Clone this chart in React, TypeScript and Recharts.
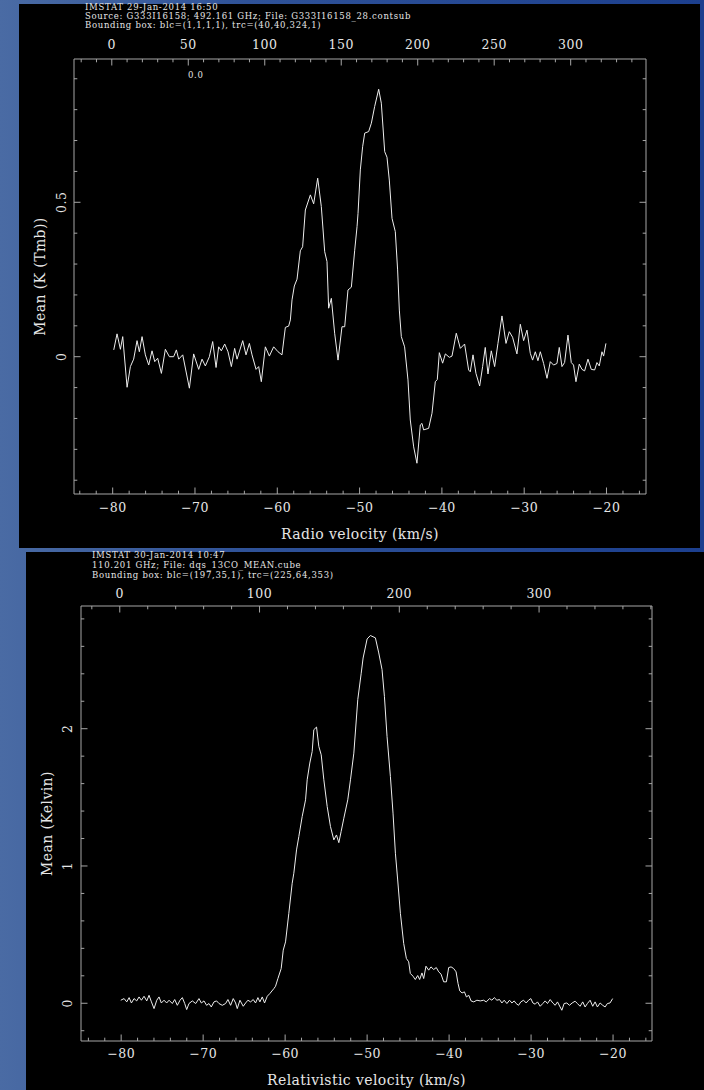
import React from 'react';
import { LineChart, Line, XAxis, YAxis } from 'recharts';

// IMSTAT spectrum 1: G333I16158, 492.161 GHz (mean, K (Tmb))
const ciVelocity = [
  -79.87, -79.47, -79.06, -78.78, -78.25, -77.85, -77.45, -77.04, -76.76, -76.43,
  -76.03, -75.62, -75.22, -74.89, -74.53, -74.08, -73.6, -73.11, -72.59, -72.26,
  -71.98, -71.49, -70.68, -70.16, -69.55, -69.14, -68.74, -68.25, -67.85, -67.44,
  -67.12, -66.8, -66.39, -65.99, -65.58, -65.18, -64.89, -64.2, -63.8, -63.39,
  -63.07, -62.58, -62.26, -61.94, -61.45, -60.96, -60.44, -59.91, -59.43, -59.02,
  -58.62, -58.41, -58.21, -57.93, -57.6, -57.2, -56.92, -56.59, -55.98, -55.58,
  -55.09, -54.65, -54.24, -53.96, -53.76, -53.43, -53.03, -52.62, -52.14, -51.81,
  -51.41, -51.0, -50.6, -50.31, -50.19, -49.91, -49.63, -49.38, -48.9, -48.57,
  -48.17, -47.68, -47.36, -46.95, -46.67, -46.39, -46.06, -45.66, -45.38, -45.17,
  -44.93, -44.53, -44.12, -43.84, -43.43, -43.03, -42.62, -42.42, -42.22, -41.61,
  -41.2, -40.8, -40.56, -40.31, -39.91, -39.58, -39.1, -38.77, -38.25, -37.76,
  -37.24, -36.75, -36.55, -36.22, -35.86, -35.41, -35.05, -34.73, -34.4, -34.0,
  -33.59, -33.19, -32.7, -32.21, -31.81, -31.41, -30.88, -30.47, -30.07, -29.66,
  -29.26, -28.98, -28.65, -28.33, -28.04, -27.64, -27.23, -26.83, -26.43, -26.02,
  -25.74, -25.41, -25.09, -24.68, -24.28, -24.0, -23.71, -23.31, -22.98, -22.66,
  -22.25, -21.85, -21.44, -21.16, -20.88, -20.55, -20.35, -20.07,
];
const ciMean = [
  0.022, 0.074, 0.024, 0.065, -0.099, -0.032, -0.008, 0.052, 0.016, 0.065,
  0.006, -0.027, 0.019, -0.016, -0.005, -0.054, 0.024, 0.0, 0.0, 0.022,
  -0.008, 0.006, -0.102, 0.009, -0.041, -0.008, -0.03, 0.0, 0.049, -0.035,
  0.032, 0.019, 0.041, 0.016, -0.032, 0.027, -0.008, 0.052, 0.006, 0.043,
  0.006, -0.041, -0.032, -0.081, 0.032, 0.002, 0.032, 0.016, 0.006, 0.095,
  0.099, 0.119, 0.184, 0.229, 0.251, 0.343, 0.356, 0.475, 0.524, 0.495,
  0.578, 0.486, 0.34, 0.308, 0.157, 0.189, 0.076, -0.011, 0.097, 0.097,
  0.216, 0.225, 0.343, 0.421, 0.464, 0.605, 0.68, 0.724, 0.729, 0.756,
  0.81, 0.866, 0.821, 0.664, 0.646, 0.572, 0.448, 0.405, 0.281, 0.151,
  0.065, 0.032, -0.075, -0.205, -0.292, -0.345, -0.221, -0.216, -0.237, -0.232,
  -0.183, -0.081, -0.074, 0.013, -0.021, 0.009, -0.002, 0.002, 0.076, 0.027,
  0.041, -0.043, -0.049, 0.006, -0.054, -0.095, -0.032, 0.03, -0.056, 0.019,
  -0.032, 0.043, 0.132, 0.043, 0.081, 0.063, 0.009, 0.105, 0.052, 0.086,
  0.011, -0.011, 0.016, -0.013, 0.016, -0.022, -0.07, -0.016, -0.027, -0.022,
  0.03, -0.032, -0.019, 0.07, -0.019, -0.027, -0.081, -0.024, -0.041, -0.046,
  -0.008, -0.041, -0.043, -0.019, -0.03, 0.016, 0.002, 0.043,
];

// IMSTAT spectrum 2: 13CO, 110.201 GHz (mean, Kelvin)
const coVelocity = [
  -80.05, -79.64, -79.32, -79.03, -78.75, -78.43, -78.1, -77.82, -77.53, -77.21,
  -76.88, -76.6, -76.31, -75.99, -75.66, -75.38, -75.1, -74.77, -74.45, -74.16,
  -73.76, -73.47, -73.15, -72.82, -72.54, -72.25, -72.01, -71.73, -71.32, -70.91,
  -70.51, -70.22, -69.9, -69.58, -69.29, -69.01, -68.68, -68.36, -68.07, -67.67,
  -67.26, -66.98, -66.65, -66.33, -66.04, -65.84, -65.51, -65.11, -64.82, -64.54,
  -64.21, -63.89, -63.61, -63.32, -63.08, -62.79, -62.51, -62.18, -61.86, -61.37,
  -61.17, -60.88, -60.48, -60.23, -59.95, -59.55, -59.14, -58.94, -58.61, -58.33,
  -57.92, -57.51, -57.31, -56.99, -56.7, -56.5, -56.17, -55.89, -55.6, -55.28,
  -54.87, -54.47, -54.06, -53.74, -53.45, -53.17, -52.84, -52.36, -52.03, -51.62,
  -51.14, -50.73, -50.49, -50.0, -49.6, -48.99, -48.58, -48.18, -47.89, -47.57,
  -47.16, -46.84, -46.55, -46.27, -45.94, -45.54, -45.21, -44.93, -44.73, -44.4,
  -44.12, -43.83, -43.59, -43.31, -43.1, -42.82, -42.49, -42.21, -41.88, -41.56,
  -41.27, -40.98, -40.66, -40.33, -40.05, -39.76, -39.44, -39.15, -38.91, -38.7,
  -38.42, -38.13, -37.89, -37.6, -37.32, -36.99, -36.61, -36.2, -35.79, -35.47,
  -35.06, -34.78, -34.49, -34.17, -33.85, -33.56, -33.28, -32.95, -32.63, -32.34,
  -32.06, -31.82, -31.53, -31.25, -30.92, -30.6, -30.31, -30.03, -29.78, -29.5,
  -29.22, -28.89, -28.57, -28.28, -28.0, -27.67, -27.35, -27.06, -26.78, -26.46,
  -26.25, -25.97, -25.64, -25.32, -24.99, -24.63, -24.35, -24.02, -23.7, -23.41,
  -23.13, -22.8, -22.48, -22.19, -21.91, -21.58, -21.26, -20.97, -20.69, -20.37,
  -20.05,
];
const coMean = [
  0.022, 0.034, 0.01, 0.041, 0.002, 0.034, 0.017, 0.046, 0.022, 0.051,
  0.017, 0.058, 0.01, -0.039, 0.022, 0.046, 0.002, 0.022, 0.002, 0.022,
  -0.002, 0.027, -0.015, 0.022, 0.041, -0.002, -0.046, -0.002, 0.017, -0.002,
  0.034, 0.002, 0.017, -0.015, -0.002, -0.027, 0.01, 0.017, -0.002, -0.015,
  -0.002, 0.027, -0.015, 0.034, 0.002, -0.039, 0.022, -0.022, 0.002, 0.022,
  0.01, 0.027, 0.002, 0.041, 0.01, 0.046, 0.002, 0.051, 0.071, 0.107,
  0.124, 0.18, 0.253, 0.387, 0.447, 0.655, 0.874, 0.947, 1.117, 1.214,
  1.36, 1.482, 1.628, 1.75, 1.834, 1.993, 2.012, 1.871, 1.81, 1.628,
  1.433, 1.287, 1.19, 1.226, 1.17, 1.251, 1.348, 1.482, 1.628, 1.822,
  2.212, 2.4, 2.515, 2.654, 2.679, 2.662, 2.552, 2.431, 2.236, 1.944,
  1.652, 1.385, 1.093, 0.898, 0.655, 0.436, 0.326, 0.302, 0.217, 0.197,
  0.173, 0.202, 0.173, 0.221, 0.18, 0.27, 0.241, 0.265, 0.246, 0.26,
  0.229, 0.212, 0.156, 0.156, 0.26, 0.265, 0.253, 0.229, 0.144, 0.09,
  0.075, 0.083, 0.046, 0.058, 0.017, 0.01, 0.022, 0.017, 0.022, 0.01,
  0.034, 0.022, 0.041, 0.022, 0.027, 0.002, 0.022, -0.002, 0.022, 0.002,
  0.017, -0.002, -0.015, 0.01, 0.022, 0.002, 0.022, 0.034, 0.002, -0.007,
  0.01, -0.022, -0.002, 0.017, -0.002, 0.027, 0.002, -0.015, 0.01, -0.027,
  -0.051, -0.002, 0.002, -0.015, 0.002, 0.015, -0.002, -0.022, 0.01, -0.027,
  -0.002, 0.022, -0.022, 0.01, -0.027, 0.002, -0.015, -0.027, -0.002, 0.002,
  0.034,
];

// labelled (major) ticks
const velocityLabels = [-80, -70, -60, -50, -40, -30, -20];
const ciChannelLabels = [0, 50, 100, 150, 200, 250, 300];
const coChannelLabels = [0, 100, 200, 300];
const ciMeanLabels = [0, 0.5];
const coMeanLabels = [0, 1, 2];

// channel axis on top: velocity of channel 0 and channel width (km/s)
const ciChannel = { v0: -80.109, dv: 0.18586 };
const coChannel = { v0: -80.17, dv: 0.17048 };

const FONT = '"DejaVu Serif", "Liberation Serif", serif';
const FRAME = '#a6a6a6';
const INK = '#e6e6e6';
const TRACE = '#ededed';

// evenly spaced tick positions for the minor marks
function steps(from: number, to: number, step: number) {
  const out: number[] = [];
  const n = Math.round((to - from) / step);
  for (let i = 0; i <= n; i++) out.push(Math.round((from + i * step) * 1000) / 1000);
  return out;
}

const fmtNum = (v: number) => String(v).replace('-', '\u2212');

type Side = 'bottom' | 'top' | 'left' | 'right';

// PGPLOT style ticks: drawn inwards from the frame, longer on labelled values
const makeTick =
  (side: Side, majors: number[], gap: number, toLabel: (v: number) => number = (v) => v) =>
  (props: any) => {
    const { x, y, payload } = props;
    const v = toLabel(payload.value);
    const major = majors.some((m) => Math.abs(m - v) < 1e-6);
    const len = major ? 6.5 : 3.3;
    const textProps = {
      fill: INK,
      stroke: 'none',
      fontSize: 12.5,
      letterSpacing: 0.5,
      fontFamily: FONT,
      textAnchor: 'middle' as const,
      dominantBaseline: 'central' as const,
    };
    if (side === 'bottom') {
      return (
        <g>
          <line x1={x} y1={y} x2={x} y2={y - len} stroke={FRAME} />
          {major && <text x={x} y={y + gap} {...textProps}>{fmtNum(v)}</text>}
        </g>
      );
    }
    if (side === 'top') {
      return (
        <g>
          <line x1={x} y1={y} x2={x} y2={y + len} stroke={FRAME} />
          {major && <text x={x} y={y - gap} {...textProps}>{fmtNum(v)}</text>}
        </g>
      );
    }
    if (side === 'left') {
      const tx = x - gap;
      return (
        <g>
          <line x1={x} y1={y} x2={x + len} y2={y} stroke={FRAME} />
          {major && (
            <text x={tx} y={y} transform={`rotate(-90 ${tx} ${y})`} {...textProps}>
              {fmtNum(v)}
            </text>
          )}
        </g>
      );
    }
    return <line x1={x} y1={y} x2={x - len} y2={y} stroke={FRAME} />;
  };

const AxisTitle = (props: any) => {
  const { viewBox, text, side, gap } = props;
  if (!viewBox) return null;
  const style = { fill: INK, fontSize: 14, letterSpacing: 0.4, fontFamily: FONT };
  if (side === 'bottom') {
    return (
      <text x={viewBox.x + viewBox.width / 2} y={viewBox.y + gap} textAnchor="middle" dominantBaseline="central" {...style}>
        {text}
      </text>
    );
  }
  const cx = viewBox.x + viewBox.width - gap;
  const cy = viewBox.y + viewBox.height / 2;
  return (
    <text x={cx} y={cy} transform={`rotate(-90 ${cx} ${cy})`} textAnchor="middle" dominantBaseline="central" {...style}>
      {text}
    </text>
  );
};

interface PanelProps {
  left: number;
  top: number;
  width: number;
  height: number;
  axisSize: { left: number; right: number; top: number; bottom: number };
  velocity: number[];
  mean: number[];
  vDomain: [number, number];
  channel: { v0: number; dv: number };
  cTicks: number[];
  cMajors: number[];
  yDomain: [number, number];
  yTicks: number[];
  yMajors: number[];
  gaps: { top: number; bottom: number; left: number; xTitle: number; yTitle: number };
  xTitle: string;
  yTitle: string;
}

function SpectrumPanel(p: PanelProps) {
  const n = Math.min(p.velocity.length, p.mean.length);
  const data = p.velocity.slice(0, n).map((v, i) => ({ v, y: p.mean[i] }));
  const vTicks = steps(Math.ceil(p.vDomain[0] / 2) * 2, Math.floor(p.vDomain[1] / 2) * 2, 2);
  // channel ticks placed on the velocity scale
  const { v0, dv } = p.channel;
  const cTicksV = p.cTicks.map((c) => v0 + c * dv).filter((v) => v > p.vDomain[0] && v < p.vDomain[1]);
  const toChannel = (v: number) => Math.round((v - v0) / dv);
  const common = {
    tickSize: 0,
    tickMargin: 0,
    tickLine: false,
    interval: 0 as const,
    allowDataOverflow: true,
    axisLine: { stroke: FRAME },
  };
  return (
    <div style={{ position: 'absolute', left: p.left, top: p.top, width: p.width, height: p.height, background: '#000' }}>
      <LineChart width={p.width} height={p.height} data={data} margin={{ top: 0, right: 0, bottom: 0, left: 0 }}>
        <XAxis
          xAxisId="v"
          dataKey="v"
          type="number"
          domain={p.vDomain}
          ticks={vTicks}
          height={p.axisSize.bottom}
          tick={makeTick('bottom', velocityLabels, p.gaps.bottom)}
          label={<AxisTitle text={p.xTitle} side="bottom" gap={p.gaps.xTitle} />}
          {...common}
        />
        <XAxis
          xAxisId="c"
          dataKey="v"
          orientation="top"
          type="number"
          domain={p.vDomain}
          ticks={cTicksV}
          height={p.axisSize.top}
          tick={makeTick('top', p.cMajors, p.gaps.top, toChannel)}
          {...common}
        />
        <YAxis
          yAxisId="l"
          type="number"
          domain={p.yDomain}
          ticks={p.yTicks}
          width={p.axisSize.left}
          tick={makeTick('left', p.yMajors, p.gaps.left)}
          label={<AxisTitle text={p.yTitle} side="left" gap={p.gaps.yTitle} />}
          {...common}
        />
        <YAxis
          yAxisId="r"
          orientation="right"
          type="number"
          domain={p.yDomain}
          ticks={p.yTicks}
          width={p.axisSize.right}
          tick={makeTick('right', p.yMajors, 0)}
          {...common}
        />
        <Line
          xAxisId="v"
          yAxisId="l"
          dataKey="y"
          type="linear"
          dot={false}
          activeDot={false}
          stroke={TRACE}
          strokeWidth={1}
          isAnimationActive={false}
        />
      </LineChart>
    </div>
  );
}

const headerStyle: React.CSSProperties = {
  position: 'absolute',
  color: INK,
  fontFamily: FONT,
  fontSize: 8.5,
  letterSpacing: 0.7,
  lineHeight: '9px',
  whiteSpace: 'pre',
};

export default function App() {
  return (
    <div
      style={{
        position: 'absolute',
        left: 0,
        top: 0,
        width: 704,
        height: 1090,
        overflow: 'hidden',
        background: 'linear-gradient(90deg, #4a6ba4 0%, #2f5298 35%, #1c3f8e 100%)',
      }}
    >
      <SpectrumPanel
        left={19}
        top={4}
        width={681}
        height={544}
        axisSize={{ left: 55, right: 54, top: 55, bottom: 54 }}
        velocity={ciVelocity}
        mean={ciMean}
        vDomain={[-84.7, -15.2]}
        channel={ciChannel}
        cTicks={steps(-20, 340, 10)}
        cMajors={ciChannelLabels}
        yDomain={[-0.4446, 0.964]}
        yTicks={steps(-0.4, 0.9, 0.1)}
        yMajors={ciMeanLabels}
        gaps={{ top: 15, bottom: 13, left: 12, xTitle: 40, yTitle: 34 }}
        xTitle="Radio velocity (km/s)"
        yTitle="Mean (K (Tmb))"
      />
      <SpectrumPanel
        left={26}
        top={552}
        width={678}
        height={538}
        axisSize={{ left: 55, right: 52, top: 54, bottom: 49 }}
        velocity={coVelocity}
        mean={coMean}
        vDomain={[-84.9, -15.25]}
        channel={coChannel}
        cTicks={steps(-20, 380, 20)}
        cMajors={coChannelLabels}
        yDomain={[-0.275, 2.894]}
        yTicks={steps(-0.2, 2.8, 0.2)}
        yMajors={coMeanLabels}
        gaps={{ top: 13, bottom: 12, left: 13, xTitle: 39, yTitle: 34 }}
        xTitle="Relativistic velocity (km/s)"
        yTitle="Mean (Kelvin)"
      />
      <div style={{ ...headerStyle, left: 85, top: 2.5 }}>IMSTAT 29-Jan-2014 16:50</div>
      <div style={{ ...headerStyle, left: 85, top: 11.5 }}>Source: G333I16158; 492.161 GHz; File: G333I16158_28.contsub</div>
      <div style={{ ...headerStyle, left: 85, top: 20.5 }}>Bounding box: blc=(1,1,1,1), trc=(40,40,324,1)</div>
      <div style={{ ...headerStyle, left: 188, top: 70.5 }}>0.0</div>
      <div style={{ ...headerStyle, left: 92, top: 550.5 }}>IMSTAT 30-Jan-2014 10:47</div>
      <div style={{ ...headerStyle, left: 92, top: 560.5 }}>110.201 GHz; File: dqs_13CO_MEAN.cube</div>
      <div style={{ ...headerStyle, left: 92, top: 570.5 }}>Bounding box: blc=(197,35,1), trc=(225,64,353)</div>
    </div>
  );
}
